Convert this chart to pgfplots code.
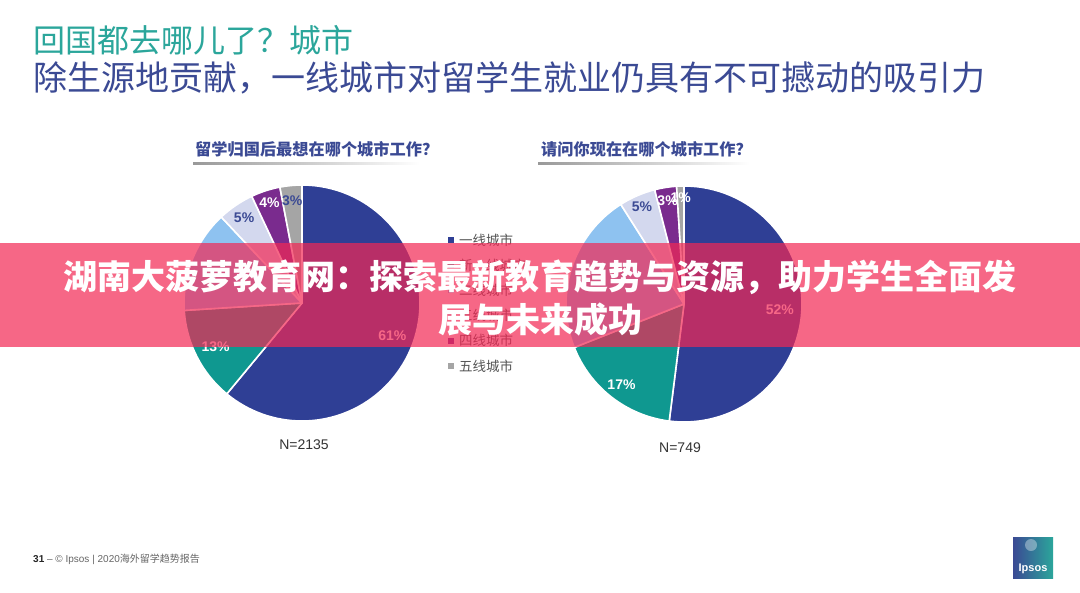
\documentclass[border=0pt]{standalone}
\usepackage{pgfplots}
\usepackage{pgfplotstable}
\pgfplotsset{compat=1.18}
\usepackage{fontspec}
\setmainfont{Liberation Sans}
\newfontfamily\cjk{Noto Sans CJK SC}

\definecolor{c1}{HTML}{2F3F95}
\definecolor{c2}{HTML}{0F9890}
\definecolor{c3}{HTML}{8EC2F0}
\definecolor{c4}{HTML}{D3D8EE}
\definecolor{c5}{HTML}{7A2B8E}
\definecolor{c6}{HTML}{A5A5A5}
\definecolor{navy}{HTML}{3B4A94}
\definecolor{tealhd}{HTML}{2BA69B}
\definecolor{banner}{RGB}{243,39,84}
\definecolor{legtxt}{HTML}{555555}
\definecolor{ntxt}{HTML}{333333}

% pie 1: 留学归国后最想在哪个城市工作？ (N=2135)
\pgfplotstableread{
pct col show lr lc
61 c1 1 96 white
13 c2 1 97 white
14 c3 0 90 white
5  c4 1 103 navy
4  c5 1 105 white
3  c6 1 103 navy
}\pieA
% pie 2: 请问你现在在哪个城市工作？ (N=749)
\pgfplotstableread{
pct col show lr lc
52 c1 1 96 white
17 c2 1 102 white
22 c3 0 90 white
5  c4 1 106 navy
3  c5 1 105 white
1  c6 1 106 white
}\pieB

\newcommand{\drawpie}[4]{%
  \pgfplotstablegetrowsof{#1}%
  \pgfmathtruncatemacro{\nrows}{\pgfplotsretval-1}%
  \gdef\cumul{0}%
  \foreach \i in {0,...,\nrows}{%
    \pgfplotstablegetelem{\i}{pct}\of{#1}\let\pp\pgfplotsretval
    \pgfplotstablegetelem{\i}{col}\of{#1}\let\slicecol\pgfplotsretval
    \pgfmathsetmacro{\sa}{90-3.6*\cumul}%
    \pgfmathsetmacro{\ea}{90-3.6*(\cumul+\pp)}%
    \fill[\slicecol, draw=white, line width=1.6bp, line join=round]
      (axis cs:#2,#3) -- ++(\sa:#4bp) arc[start angle=\sa, end angle=\ea, radius=#4bp] -- cycle;
    \pgfmathsetmacro{\newc}{\cumul+\pp}%
    \xdef\cumul{\newc}%
  }%
  \gdef\cumul{0}%
  \foreach \i in {0,...,\nrows}{%
    \pgfplotstablegetelem{\i}{pct}\of{#1}\let\pp\pgfplotsretval
    \pgfplotstablegetelem{\i}{show}\of{#1}\let\shw\pgfplotsretval
    \pgfplotstablegetelem{\i}{lr}\of{#1}\let\lrad\pgfplotsretval
    \pgfplotstablegetelem{\i}{lc}\of{#1}\let\lcol\pgfplotsretval
    \pgfmathsetmacro{\ma}{90-3.6*(\cumul+\pp/2)}%
    \ifnum\shw=1
      \path (axis cs:#2,#3) ++(\ma:\lrad bp) node[text=\lcol, font=\fontsize{14bp}{16bp}\selectfont\bfseries] {\pp\%};
    \fi
    \pgfmathsetmacro{\newc}{\cumul+\pp}%
    \xdef\cumul{\newc}%
  }%
}

\begin{document}
\begin{tikzpicture}
\begin{axis}[
  width=1080bp, height=592bp, scale only axis,
  xmin=0, xmax=1080, ymin=0, ymax=592, y dir=reverse,
  hide axis, clip=false]
\pgfplotsextra{%
  \fill[white] (axis cs:0,0) rectangle (axis cs:1080,592);
  % header
  \node[anchor=west, text=tealhd, inner sep=0pt, font=\cjk\fontsize{32bp}{36bp}\selectfont] at (axis cs:33,40) {回国都去哪儿了？城市};
  \node[anchor=west, text=navy, inner sep=0pt, font=\cjk\fontsize{34bp}{38bp}\selectfont] at (axis cs:33,78) {除生源地贡献，一线城市对留学生就业仍具有不可撼动的吸引力};
  % pie titles
  \node[anchor=west, text=navy, inner sep=0pt, font=\cjk\bfseries\fontsize{16.2bp}{18bp}\selectfont] at (axis cs:195,149) {留学归国后最想在哪个城市工作？};
  \node[anchor=west, text=navy, inner sep=0pt, font=\cjk\bfseries\fontsize{16.2bp}{18bp}\selectfont] at (axis cs:541,149) {请问你现在在哪个城市工作？};
  \shade[left color=black!40, right color=white] (axis cs:193,162.5) rectangle (axis cs:420,164);
  \shade[left color=black!40, right color=white] (axis cs:538,162.5) rectangle (axis cs:750,164);
  % pies
  \drawpie{\pieA}{302}{303}{118}
  \drawpie{\pieB}{684}{304}{118}
  % N labels
  \node[text=ntxt, font=\fontsize{14bp}{16bp}\selectfont] at (axis cs:304,445) {N=2135};
  \node[text=ntxt, font=\fontsize{14bp}{16bp}\selectfont] at (axis cs:680,448) {N=749};
  % legend
  \foreach \cc/\tt [count=\k from 0] in {c1/一线城市,c2/新一线城市,c3/二线城市,c4/三线城市,c5/四线城市,c6/五线城市}{
    \pgfmathsetmacro{\yy}{240+25.2*\k}
    \fill[\cc] (axis cs:448,\yy-3) rectangle (axis cs:454,\yy+3);
    \node[anchor=west, inner sep=0pt, text=legtxt, font=\cjk\fontsize{13.5bp}{16bp}\selectfont] at (axis cs:459,\yy) {\tt};
  }
  % footer
  \node[anchor=west, inner sep=0pt, text=black!60, font=\fontsize{10bp}{12bp}\selectfont] at (axis cs:33,559) {\textcolor{black!85}{\bfseries 31} -- \textcopyright{} Ipsos | 2020{\cjk 海外留学趋势报告}};
  % logo
  \shade[left color=navy, right color=tealhd] (axis cs:1013,537) rectangle (axis cs:1053,578);
  \fill[white, opacity=0.35] (axis cs:1031,545) circle[radius=6bp];
  \node[text=white, font=\bfseries\fontsize{11bp}{12bp}\selectfont, inner sep=0pt] at (axis cs:1033,569) {Ipsos};
  % banner overlay
  \fill[banner, opacity=0.7] (axis cs:0,243) rectangle (axis cs:1080,347);
  \node[text=white, inner sep=0pt, font=\cjk\bfseries\fontsize{34bp}{40bp}\selectfont] at (axis cs:540,277) {湖南大菠萝教育网：探索最新教育趋势与资源，助力学生全面发};
  \node[text=white, inner sep=0pt, font=\cjk\bfseries\fontsize{34bp}{40bp}\selectfont] at (axis cs:540,320) {展与未来成功};
}
\end{axis}
\end{tikzpicture}
\end{document}
